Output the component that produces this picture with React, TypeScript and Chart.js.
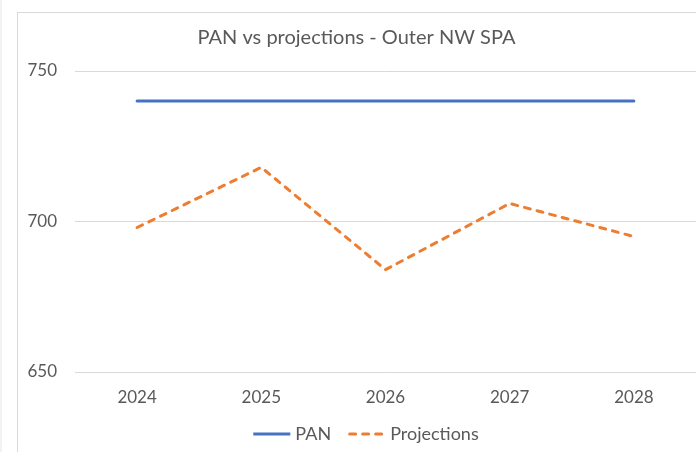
import React, { useEffect, useRef } from "react";
import { Chart, registerables } from "chart.js";

Chart.register(...registerables);

const categories = ["2024", "2025", "2026", "2027", "2028"];
const panValues = [740, 740, 740, 740, 740];
const projectionValues = [698, 718, 684, 706, 695];
const yMin = 650;
const yMax = 750;
const yStep = 50;
const titleText = "PAN vs projections - Outer NW SPA";

const FONT = "Lato, 'Open Sans', sans-serif";
const TEXT = "#595959";

const legendPlugin = {
  id: "customLegend",
  afterDraw(chart: any) {
    const ctx = chart.ctx as CanvasRenderingContext2D;
    const sets = chart.data.datasets as any[];
    const lineLen = 37;
    const textGap = 5;
    const itemGap = 17;
    ctx.save();
    ctx.font = `18px ${FONT}`;
    const widths = sets.map((d) => ctx.measureText(d.label).width);
    let total = 0;
    widths.forEach((w, i) => {
      total += lineLen + textGap + w + (i > 0 ? itemGap : 0);
    });
    let x = chart.width / 2 + 1 - total / 2;
    const y = 422;
    sets.forEach((d, i) => {
      ctx.beginPath();
      ctx.strokeStyle = d.borderColor;
      ctx.lineWidth = d.borderWidth;
      ctx.lineCap = d.borderDash ? "round" : "butt";
      ctx.setLineDash(d.borderDash || []);
      ctx.moveTo(x + (d.borderDash ? 1.5 : 0), y);
      ctx.lineTo(x + lineLen, y);
      ctx.stroke();
      ctx.setLineDash([]);
      x += lineLen + textGap;
      ctx.fillStyle = TEXT;
      ctx.textBaseline = "middle";
      ctx.textAlign = "left";
      ctx.fillText(d.label, x, y);
      x += widths[i] + itemGap;
    });
    ctx.restore();
  },
};

export default function App() {
  const ref = useRef<HTMLCanvasElement | null>(null);

  useEffect(() => {
    if (!ref.current) return;
    const chart = new Chart(ref.current, {
      type: "line",
      data: {
        labels: categories,
        datasets: [
          {
            label: "PAN",
            data: panValues,
            borderColor: "#4472C4",
            backgroundColor: "#4472C4",
            borderWidth: 3,
            pointRadius: 0,
            pointHoverRadius: 0,
            tension: 0,
            borderCapStyle: "round",
          },
          {
            label: "Projections",
            data: projectionValues,
            borderColor: "#ED7D31",
            backgroundColor: "#ED7D31",
            borderWidth: 3,
            borderDash: [6, 7],
            borderCapStyle: "round",
            pointRadius: 0,
            pointHoverRadius: 0,
            tension: 0,
          },
        ],
      },
      options: {
        responsive: false,
        animation: false,
        devicePixelRatio: 1,
        layout: { padding: { top: 0, left: 0, right: 17, bottom: 46 } },
        plugins: {
          tooltip: { enabled: false },
          title: {
            display: true,
            text: titleText,
            color: TEXT,
            font: { family: FONT, size: 20, weight: "normal", lineHeight: 1.2 },
            padding: { top: 13.4, bottom: 21.6 },
          },
          legend: { display: false },
        },
        scales: {
          x: {
            type: "category",
            offset: true,
            grid: { display: false, drawTicks: false },
            border: { display: false },
            ticks: {
              color: TEXT,
              font: { family: FONT, size: 17, lineHeight: 1.2 },
              padding: 15,
              maxRotation: 0,
            },
            afterFit: (scale: any) => {
              scale.height = 36;
            },
          },
          y: {
            min: yMin,
            max: yMax,
            grid: { color: "#d9d9d9", lineWidth: 1, drawTicks: false },
            border: { display: false },
            ticks: {
              stepSize: yStep,
              color: TEXT,
              font: { family: FONT, size: 17, lineHeight: 1.2 },
              padding: 18,
            },
            afterFit: (scale: any) => {
              scale.width = 58;
            },
          },
        },
      },
      plugins: [legendPlugin],
    });
    return () => chart.destroy();
  }, []);

  return (
    <div
      style={{
        position: "fixed",
        left: 0,
        top: 0,
        width: 696,
        height: 452,
        background: "#ffffff",
        overflow: "hidden",
      }}
    >
      <div
        style={{
          position: "absolute",
          left: 0,
          top: 0,
          width: 2,
          height: 452,
          background: "#f2f2f2",
        }}
      />
      <div
        style={{
          position: "absolute",
          left: 17,
          top: 12,
          width: 1000,
          height: 1000,
          border: "1px solid #d9d9d9",
        }}
      />
      <canvas
        ref={ref}
        width={696}
        height={442}
        style={{ position: "absolute", left: 17, top: 12, width: 696, height: 442 }}
      />
    </div>
  );
}
